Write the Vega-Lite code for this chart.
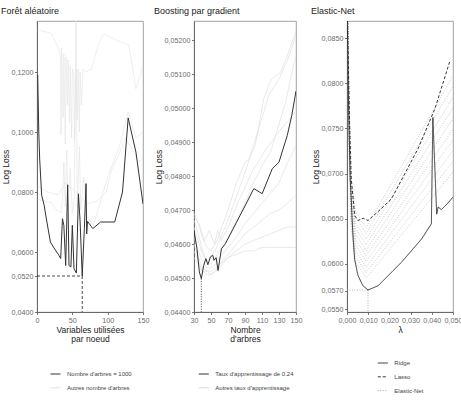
{
  "$schema": "https://vega.github.io/schema/vega-lite/v6.json",
  "padding": {"left": 0, "top": 6, "right": 0, "bottom": 0},
  "bounds": "flush",
  "spacing": 51,
  "resolve": {"scale": {"color": "independent", "strokeDash": "independent"}, "legend": {"color": "independent", "strokeDash": "independent"}},
  "config": {
    "font": "Liberation Sans",
    "view": {"stroke": "#8a8a8a", "strokeWidth": 0.8},
    "axis": {"grid": false, "labelFontSize": 7.2, "labelColor": "#6b6b6b", "titleFontSize": 8.5, "titleFontWeight": "normal", "titleColor": "#222222", "domainColor": "#555555", "tickColor": "#555555", "tickSize": 2.5, "labelPadding": 1.5, "domainWidth": 0.8, "tickWidth": 0.8, "titleLineHeight": 9.5, "labelOverlap": false, "labelBound": false, "labelFlush": false},
    "axisY": {"titlePadding": 1},
    "axisX": {"titlePadding": 2},
    "title": {"fontSize": 9, "fontWeight": "normal", "anchor": "start", "color": "#222222", "offset": 5},
    "legend": {"labelFontSize": 6, "labelColor": "#444444", "symbolType": "stroke", "symbolSize": 100, "symbolStrokeWidth": 1, "rowPadding": 4.8, "labelOffset": 6, "padding": 0, "orient": "none", "direction": "vertical", "title": null}
  },
  "datasets": {
    "rf": [
      {"id": "g1", "serie": "Autres nombre d'arbres", "x": 1, "y": 0.134},
      {"id": "g1", "serie": "Autres nombre d'arbres", "x": 10, "y": 0.1335},
      {"id": "g1", "serie": "Autres nombre d'arbres", "x": 20, "y": 0.133},
      {"id": "g1", "serie": "Autres nombre d'arbres", "x": 30, "y": 0.128},
      {"id": "g1", "serie": "Autres nombre d'arbres", "x": 33, "y": 0.126},
      {"id": "g1", "serie": "Autres nombre d'arbres", "x": 34, "y": 0.099},
      {"id": "g1", "serie": "Autres nombre d'arbres", "x": 35, "y": 0.128},
      {"id": "g1", "serie": "Autres nombre d'arbres", "x": 37, "y": 0.105},
      {"id": "g1", "serie": "Autres nombre d'arbres", "x": 38, "y": 0.126},
      {"id": "g1", "serie": "Autres nombre d'arbres", "x": 40, "y": 0.096},
      {"id": "g1", "serie": "Autres nombre d'arbres", "x": 41, "y": 0.125},
      {"id": "g1", "serie": "Autres nombre d'arbres", "x": 43, "y": 0.109},
      {"id": "g1", "serie": "Autres nombre d'arbres", "x": 44, "y": 0.124},
      {"id": "g1", "serie": "Autres nombre d'arbres", "x": 46, "y": 0.103},
      {"id": "g1", "serie": "Autres nombre d'arbres", "x": 47, "y": 0.122},
      {"id": "g1", "serie": "Autres nombre d'arbres", "x": 49, "y": 0.098},
      {"id": "g1", "serie": "Autres nombre d'arbres", "x": 50, "y": 0.121},
      {"id": "g1", "serie": "Autres nombre d'arbres", "x": 52, "y": 0.119},
      {"id": "g1", "serie": "Autres nombre d'arbres", "x": 53, "y": 0.097},
      {"id": "g1", "serie": "Autres nombre d'arbres", "x": 55, "y": 0.121},
      {"id": "g1", "serie": "Autres nombre d'arbres", "x": 57, "y": 0.104},
      {"id": "g1", "serie": "Autres nombre d'arbres", "x": 58, "y": 0.121},
      {"id": "g1", "serie": "Autres nombre d'arbres", "x": 60, "y": 0.1},
      {"id": "g1", "serie": "Autres nombre d'arbres", "x": 61, "y": 0.12},
      {"id": "g1", "serie": "Autres nombre d'arbres", "x": 63, "y": 0.109},
      {"id": "g1", "serie": "Autres nombre d'arbres", "x": 65, "y": 0.121},
      {"id": "g1", "serie": "Autres nombre d'arbres", "x": 69, "y": 0.12},
      {"id": "g1", "serie": "Autres nombre d'arbres", "x": 77, "y": 0.121},
      {"id": "g1", "serie": "Autres nombre d'arbres", "x": 88, "y": 0.13},
      {"id": "g1", "serie": "Autres nombre d'arbres", "x": 95, "y": 0.1327},
      {"id": "g1", "serie": "Autres nombre d'arbres", "x": 118, "y": 0.13},
      {"id": "g1", "serie": "Autres nombre d'arbres", "x": 130, "y": 0.129},
      {"id": "g1", "serie": "Autres nombre d'arbres", "x": 140, "y": 0.1144},
      {"id": "g1", "serie": "Autres nombre d'arbres", "x": 150, "y": 0.122},
      {"id": "g2", "serie": "Autres nombre d'arbres", "x": 1, "y": 0.0775},
      {"id": "g2", "serie": "Autres nombre d'arbres", "x": 10, "y": 0.077},
      {"id": "g2", "serie": "Autres nombre d'arbres", "x": 20, "y": 0.0765},
      {"id": "g2", "serie": "Autres nombre d'arbres", "x": 28, "y": 0.074},
      {"id": "g2", "serie": "Autres nombre d'arbres", "x": 34, "y": 0.073},
      {"id": "g2", "serie": "Autres nombre d'arbres", "x": 36, "y": 0.078},
      {"id": "g2", "serie": "Autres nombre d'arbres", "x": 38, "y": 0.09},
      {"id": "g2", "serie": "Autres nombre d'arbres", "x": 40, "y": 0.075},
      {"id": "g2", "serie": "Autres nombre d'arbres", "x": 42, "y": 0.094},
      {"id": "g2", "serie": "Autres nombre d'arbres", "x": 44, "y": 0.074},
      {"id": "g2", "serie": "Autres nombre d'arbres", "x": 47, "y": 0.088},
      {"id": "g2", "serie": "Autres nombre d'arbres", "x": 50, "y": 0.073},
      {"id": "g2", "serie": "Autres nombre d'arbres", "x": 53, "y": 0.078},
      {"id": "g2", "serie": "Autres nombre d'arbres", "x": 55, "y": 0.14},
      {"id": "g2", "serie": "Autres nombre d'arbres", "x": 57, "y": 0.075},
      {"id": "g2", "serie": "Autres nombre d'arbres", "x": 60, "y": 0.095},
      {"id": "g2", "serie": "Autres nombre d'arbres", "x": 62, "y": 0.074},
      {"id": "g2", "serie": "Autres nombre d'arbres", "x": 66, "y": 0.085},
      {"id": "g2", "serie": "Autres nombre d'arbres", "x": 70, "y": 0.072},
      {"id": "g2", "serie": "Autres nombre d'arbres", "x": 80, "y": 0.069},
      {"id": "g2", "serie": "Autres nombre d'arbres", "x": 100, "y": 0.085},
      {"id": "g2", "serie": "Autres nombre d'arbres", "x": 117, "y": 0.0955},
      {"id": "g2", "serie": "Autres nombre d'arbres", "x": 129, "y": 0.1067},
      {"id": "g2", "serie": "Autres nombre d'arbres", "x": 140, "y": 0.098},
      {"id": "g2", "serie": "Autres nombre d'arbres", "x": 150, "y": 0.1},
      {"id": "g3", "serie": "Autres nombre d'arbres", "x": 1, "y": 0.082},
      {"id": "g3", "serie": "Autres nombre d'arbres", "x": 15, "y": 0.08},
      {"id": "g3", "serie": "Autres nombre d'arbres", "x": 30, "y": 0.079},
      {"id": "g3", "serie": "Autres nombre d'arbres", "x": 40, "y": 0.083},
      {"id": "g3", "serie": "Autres nombre d'arbres", "x": 50, "y": 0.081},
      {"id": "g3", "serie": "Autres nombre d'arbres", "x": 60, "y": 0.079},
      {"id": "g3", "serie": "Autres nombre d'arbres", "x": 70, "y": 0.076},
      {"id": "g3", "serie": "Autres nombre d'arbres", "x": 85, "y": 0.077},
      {"id": "g3", "serie": "Autres nombre d'arbres", "x": 98, "y": 0.08},
      {"id": "g3", "serie": "Autres nombre d'arbres", "x": 105, "y": 0.087},
      {"id": "g3", "serie": "Autres nombre d'arbres", "x": 115, "y": 0.092},
      {"id": "g3", "serie": "Autres nombre d'arbres", "x": 125, "y": 0.098},
      {"id": "g3", "serie": "Autres nombre d'arbres", "x": 135, "y": 0.094},
      {"id": "g3", "serie": "Autres nombre d'arbres", "x": 145, "y": 0.09},
      {"id": "g3", "serie": "Autres nombre d'arbres", "x": 150, "y": 0.092},
      {"id": "b", "serie": "Nombre d'arbres = 1000", "x": 1, "y": 0.119},
      {"id": "b", "serie": "Nombre d'arbres = 1000", "x": 2.5, "y": 0.1},
      {"id": "b", "serie": "Nombre d'arbres = 1000", "x": 3.8, "y": 0.091},
      {"id": "b", "serie": "Nombre d'arbres = 1000", "x": 6.6, "y": 0.0789},
      {"id": "b", "serie": "Nombre d'arbres = 1000", "x": 10, "y": 0.0757},
      {"id": "b", "serie": "Nombre d'arbres = 1000", "x": 14, "y": 0.07},
      {"id": "b", "serie": "Nombre d'arbres = 1000", "x": 19, "y": 0.0633},
      {"id": "b", "serie": "Nombre d'arbres = 1000", "x": 25, "y": 0.061},
      {"id": "b", "serie": "Nombre d'arbres = 1000", "x": 31, "y": 0.0589},
      {"id": "b", "serie": "Nombre d'arbres = 1000", "x": 33.5, "y": 0.0578},
      {"id": "b", "serie": "Nombre d'arbres = 1000", "x": 36, "y": 0.0711},
      {"id": "b", "serie": "Nombre d'arbres = 1000", "x": 38, "y": 0.0689},
      {"id": "b", "serie": "Nombre d'arbres = 1000", "x": 40.6, "y": 0.0555},
      {"id": "b", "serie": "Nombre d'arbres = 1000", "x": 43.4, "y": 0.0824},
      {"id": "b", "serie": "Nombre d'arbres = 1000", "x": 45.3, "y": 0.0555},
      {"id": "b", "serie": "Nombre d'arbres = 1000", "x": 48, "y": 0.055},
      {"id": "b", "serie": "Nombre d'arbres = 1000", "x": 50, "y": 0.0689},
      {"id": "b", "serie": "Nombre d'arbres = 1000", "x": 52.4, "y": 0.0544},
      {"id": "b", "serie": "Nombre d'arbres = 1000", "x": 55.7, "y": 0.053},
      {"id": "b", "serie": "Nombre d'arbres = 1000", "x": 58.6, "y": 0.0794},
      {"id": "b", "serie": "Nombre d'arbres = 1000", "x": 61, "y": 0.0702},
      {"id": "b", "serie": "Nombre d'arbres = 1000", "x": 64, "y": 0.052},
      {"id": "b", "serie": "Nombre d'arbres = 1000", "x": 67, "y": 0.0678},
      {"id": "b", "serie": "Nombre d'arbres = 1000", "x": 69.4, "y": 0.0828},
      {"id": "b", "serie": "Nombre d'arbres = 1000", "x": 70.3, "y": 0.066},
      {"id": "b", "serie": "Nombre d'arbres = 1000", "x": 71.5, "y": 0.0702},
      {"id": "b", "serie": "Nombre d'arbres = 1000", "x": 79, "y": 0.0678},
      {"id": "b", "serie": "Nombre d'arbres = 1000", "x": 90, "y": 0.07},
      {"id": "b", "serie": "Nombre d'arbres = 1000", "x": 110, "y": 0.07},
      {"id": "b", "serie": "Nombre d'arbres = 1000", "x": 121, "y": 0.08},
      {"id": "b", "serie": "Nombre d'arbres = 1000", "x": 129, "y": 0.1047},
      {"id": "b", "serie": "Nombre d'arbres = 1000", "x": 140, "y": 0.0933},
      {"id": "b", "serie": "Nombre d'arbres = 1000", "x": 150, "y": 0.076}
    ],
    "rfref": [
      {"id": "h", "x": 0, "y": 0.052},
      {"id": "h", "x": 64, "y": 0.052},
      {"id": "v", "x": 64, "y": 0.052},
      {"id": "v", "x": 64, "y": 0.04}
    ],
    "gb": [
      {"id": "L1", "serie": "Autres taux d'apprentissage", "x": 30, "y": 0.0469},
      {"id": "L1", "serie": "Autres taux d'apprentissage", "x": 35, "y": 0.0466},
      {"id": "L1", "serie": "Autres taux d'apprentissage", "x": 40, "y": 0.0462},
      {"id": "L1", "serie": "Autres taux d'apprentissage", "x": 45, "y": 0.0459},
      {"id": "L1", "serie": "Autres taux d'apprentissage", "x": 50, "y": 0.0458},
      {"id": "L1", "serie": "Autres taux d'apprentissage", "x": 55, "y": 0.046},
      {"id": "L1", "serie": "Autres taux d'apprentissage", "x": 60, "y": 0.0463},
      {"id": "L1", "serie": "Autres taux d'apprentissage", "x": 70, "y": 0.047},
      {"id": "L1", "serie": "Autres taux d'apprentissage", "x": 80, "y": 0.0478},
      {"id": "L1", "serie": "Autres taux d'apprentissage", "x": 90, "y": 0.0484},
      {"id": "L1", "serie": "Autres taux d'apprentissage", "x": 95, "y": 0.04851},
      {"id": "L1", "serie": "Autres taux d'apprentissage", "x": 102, "y": 0.0489},
      {"id": "L1", "serie": "Autres taux d'apprentissage", "x": 108, "y": 0.04969},
      {"id": "L1", "serie": "Autres taux d'apprentissage", "x": 112, "y": 0.05027},
      {"id": "L1", "serie": "Autres taux d'apprentissage", "x": 120, "y": 0.05081},
      {"id": "L1", "serie": "Autres taux d'apprentissage", "x": 132, "y": 0.05106},
      {"id": "L1", "serie": "Autres taux d'apprentissage", "x": 140, "y": 0.05155},
      {"id": "L1", "serie": "Autres taux d'apprentissage", "x": 150, "y": 0.05228},
      {"id": "L2", "serie": "Autres taux d'apprentissage", "x": 30, "y": 0.0467},
      {"id": "L2", "serie": "Autres taux d'apprentissage", "x": 35, "y": 0.0463},
      {"id": "L2", "serie": "Autres taux d'apprentissage", "x": 40, "y": 0.0458},
      {"id": "L2", "serie": "Autres taux d'apprentissage", "x": 45, "y": 0.0455},
      {"id": "L2", "serie": "Autres taux d'apprentissage", "x": 50, "y": 0.0456},
      {"id": "L2", "serie": "Autres taux d'apprentissage", "x": 55, "y": 0.0458},
      {"id": "L2", "serie": "Autres taux d'apprentissage", "x": 60, "y": 0.0461},
      {"id": "L2", "serie": "Autres taux d'apprentissage", "x": 70, "y": 0.0467},
      {"id": "L2", "serie": "Autres taux d'apprentissage", "x": 80, "y": 0.0474},
      {"id": "L2", "serie": "Autres taux d'apprentissage", "x": 90, "y": 0.0481},
      {"id": "L2", "serie": "Autres taux d'apprentissage", "x": 100, "y": 0.0489},
      {"id": "L2", "serie": "Autres taux d'apprentissage", "x": 110, "y": 0.0497},
      {"id": "L2", "serie": "Autres taux d'apprentissage", "x": 118, "y": 0.05037},
      {"id": "L2", "serie": "Autres taux d'apprentissage", "x": 130, "y": 0.05086},
      {"id": "L2", "serie": "Autres taux d'apprentissage", "x": 140, "y": 0.0514},
      {"id": "L2", "serie": "Autres taux d'apprentissage", "x": 150, "y": 0.05214},
      {"id": "L3", "serie": "Autres taux d'apprentissage", "x": 30, "y": 0.0465},
      {"id": "L3", "serie": "Autres taux d'apprentissage", "x": 35, "y": 0.0461},
      {"id": "L3", "serie": "Autres taux d'apprentissage", "x": 40, "y": 0.0457},
      {"id": "L3", "serie": "Autres taux d'apprentissage", "x": 45, "y": 0.0455},
      {"id": "L3", "serie": "Autres taux d'apprentissage", "x": 50, "y": 0.0454},
      {"id": "L3", "serie": "Autres taux d'apprentissage", "x": 55, "y": 0.0456},
      {"id": "L3", "serie": "Autres taux d'apprentissage", "x": 60, "y": 0.0458},
      {"id": "L3", "serie": "Autres taux d'apprentissage", "x": 70, "y": 0.0462},
      {"id": "L3", "serie": "Autres taux d'apprentissage", "x": 80, "y": 0.0467},
      {"id": "L3", "serie": "Autres taux d'apprentissage", "x": 90, "y": 0.0472},
      {"id": "L3", "serie": "Autres taux d'apprentissage", "x": 100, "y": 0.0478},
      {"id": "L3", "serie": "Autres taux d'apprentissage", "x": 110, "y": 0.0483},
      {"id": "L3", "serie": "Autres taux d'apprentissage", "x": 120, "y": 0.0487},
      {"id": "L3", "serie": "Autres taux d'apprentissage", "x": 126, "y": 0.04919},
      {"id": "L3", "serie": "Autres taux d'apprentissage", "x": 138, "y": 0.0502},
      {"id": "L3", "serie": "Autres taux d'apprentissage", "x": 148, "y": 0.05135},
      {"id": "L3", "serie": "Autres taux d'apprentissage", "x": 150, "y": 0.0515},
      {"id": "L4", "serie": "Autres taux d'apprentissage", "x": 30, "y": 0.0462},
      {"id": "L4", "serie": "Autres taux d'apprentissage", "x": 35, "y": 0.0458},
      {"id": "L4", "serie": "Autres taux d'apprentissage", "x": 40, "y": 0.0455},
      {"id": "L4", "serie": "Autres taux d'apprentissage", "x": 45, "y": 0.0453},
      {"id": "L4", "serie": "Autres taux d'apprentissage", "x": 50, "y": 0.0453},
      {"id": "L4", "serie": "Autres taux d'apprentissage", "x": 55, "y": 0.0454},
      {"id": "L4", "serie": "Autres taux d'apprentissage", "x": 60, "y": 0.0456},
      {"id": "L4", "serie": "Autres taux d'apprentissage", "x": 70, "y": 0.0459},
      {"id": "L4", "serie": "Autres taux d'apprentissage", "x": 80, "y": 0.0462},
      {"id": "L4", "serie": "Autres taux d'apprentissage", "x": 90, "y": 0.0466},
      {"id": "L4", "serie": "Autres taux d'apprentissage", "x": 100, "y": 0.0469},
      {"id": "L4", "serie": "Autres taux d'apprentissage", "x": 110, "y": 0.0472},
      {"id": "L4", "serie": "Autres taux d'apprentissage", "x": 120, "y": 0.0475},
      {"id": "L4", "serie": "Autres taux d'apprentissage", "x": 130, "y": 0.0478},
      {"id": "L4", "serie": "Autres taux d'apprentissage", "x": 140, "y": 0.0484},
      {"id": "L4", "serie": "Autres taux d'apprentissage", "x": 150, "y": 0.0489},
      {"id": "L5", "serie": "Autres taux d'apprentissage", "x": 30, "y": 0.046},
      {"id": "L5", "serie": "Autres taux d'apprentissage", "x": 35, "y": 0.0456},
      {"id": "L5", "serie": "Autres taux d'apprentissage", "x": 40, "y": 0.0453},
      {"id": "L5", "serie": "Autres taux d'apprentissage", "x": 45, "y": 0.0452},
      {"id": "L5", "serie": "Autres taux d'apprentissage", "x": 50, "y": 0.0451},
      {"id": "L5", "serie": "Autres taux d'apprentissage", "x": 55, "y": 0.0452},
      {"id": "L5", "serie": "Autres taux d'apprentissage", "x": 60, "y": 0.0454},
      {"id": "L5", "serie": "Autres taux d'apprentissage", "x": 70, "y": 0.0457},
      {"id": "L5", "serie": "Autres taux d'apprentissage", "x": 80, "y": 0.046},
      {"id": "L5", "serie": "Autres taux d'apprentissage", "x": 90, "y": 0.0463},
      {"id": "L5", "serie": "Autres taux d'apprentissage", "x": 100, "y": 0.0465},
      {"id": "L5", "serie": "Autres taux d'apprentissage", "x": 110, "y": 0.0467},
      {"id": "L5", "serie": "Autres taux d'apprentissage", "x": 120, "y": 0.0469},
      {"id": "L5", "serie": "Autres taux d'apprentissage", "x": 130, "y": 0.047},
      {"id": "L5", "serie": "Autres taux d'apprentissage", "x": 140, "y": 0.0472},
      {"id": "L5", "serie": "Autres taux d'apprentissage", "x": 150, "y": 0.04743},
      {"id": "L6", "serie": "Autres taux d'apprentissage", "x": 30, "y": 0.0458},
      {"id": "L6", "serie": "Autres taux d'apprentissage", "x": 35, "y": 0.0455},
      {"id": "L6", "serie": "Autres taux d'apprentissage", "x": 40, "y": 0.0452},
      {"id": "L6", "serie": "Autres taux d'apprentissage", "x": 45, "y": 0.0451},
      {"id": "L6", "serie": "Autres taux d'apprentissage", "x": 50, "y": 0.0451},
      {"id": "L6", "serie": "Autres taux d'apprentissage", "x": 55, "y": 0.0452},
      {"id": "L6", "serie": "Autres taux d'apprentissage", "x": 60, "y": 0.0453},
      {"id": "L6", "serie": "Autres taux d'apprentissage", "x": 70, "y": 0.0456},
      {"id": "L6", "serie": "Autres taux d'apprentissage", "x": 80, "y": 0.0458},
      {"id": "L6", "serie": "Autres taux d'apprentissage", "x": 90, "y": 0.046},
      {"id": "L6", "serie": "Autres taux d'apprentissage", "x": 100, "y": 0.0461},
      {"id": "L6", "serie": "Autres taux d'apprentissage", "x": 110, "y": 0.0462},
      {"id": "L6", "serie": "Autres taux d'apprentissage", "x": 120, "y": 0.0463},
      {"id": "L6", "serie": "Autres taux d'apprentissage", "x": 130, "y": 0.0464},
      {"id": "L6", "serie": "Autres taux d'apprentissage", "x": 140, "y": 0.0465},
      {"id": "L6", "serie": "Autres taux d'apprentissage", "x": 150, "y": 0.0465},
      {"id": "L7", "serie": "Autres taux d'apprentissage", "x": 30, "y": 0.0456},
      {"id": "L7", "serie": "Autres taux d'apprentissage", "x": 40, "y": 0.0452},
      {"id": "L7", "serie": "Autres taux d'apprentissage", "x": 50, "y": 0.0452},
      {"id": "L7", "serie": "Autres taux d'apprentissage", "x": 60, "y": 0.0454},
      {"id": "L7", "serie": "Autres taux d'apprentissage", "x": 70, "y": 0.0456},
      {"id": "L7", "serie": "Autres taux d'apprentissage", "x": 80, "y": 0.0457},
      {"id": "L7", "serie": "Autres taux d'apprentissage", "x": 90, "y": 0.0458},
      {"id": "L7", "serie": "Autres taux d'apprentissage", "x": 100, "y": 0.0458},
      {"id": "L7", "serie": "Autres taux d'apprentissage", "x": 110, "y": 0.0459},
      {"id": "L7", "serie": "Autres taux d'apprentissage", "x": 120, "y": 0.0459},
      {"id": "L7", "serie": "Autres taux d'apprentissage", "x": 130, "y": 0.0459},
      {"id": "L7", "serie": "Autres taux d'apprentissage", "x": 150, "y": 0.0459},
      {"id": "L8", "serie": "Autres taux d'apprentissage", "x": 30, "y": 0.0468},
      {"id": "L8", "serie": "Autres taux d'apprentissage", "x": 36, "y": 0.0466},
      {"id": "L8", "serie": "Autres taux d'apprentissage", "x": 42, "y": 0.0461},
      {"id": "L8", "serie": "Autres taux d'apprentissage", "x": 48, "y": 0.0464},
      {"id": "L8", "serie": "Autres taux d'apprentissage", "x": 54, "y": 0.046},
      {"id": "L8", "serie": "Autres taux d'apprentissage", "x": 58, "y": 0.0464},
      {"id": "L8", "serie": "Autres taux d'apprentissage", "x": 62, "y": 0.0461},
      {"id": "L8", "serie": "Autres taux d'apprentissage", "x": 70, "y": 0.0465},
      {"id": "L8", "serie": "Autres taux d'apprentissage", "x": 85, "y": 0.0474},
      {"id": "L8", "serie": "Autres taux d'apprentissage", "x": 100, "y": 0.0482},
      {"id": "L8", "serie": "Autres taux d'apprentissage", "x": 115, "y": 0.0488},
      {"id": "L8", "serie": "Autres taux d'apprentissage", "x": 130, "y": 0.0493},
      {"id": "L8", "serie": "Autres taux d'apprentissage", "x": 150, "y": 0.0499},
      {"id": "B", "serie": "Taux d'apprentissage de 0.24", "x": 30, "y": 0.0464},
      {"id": "B", "serie": "Taux d'apprentissage de 0.24", "x": 33.5, "y": 0.04586},
      {"id": "B", "serie": "Taux d'apprentissage de 0.24", "x": 36.3, "y": 0.04518},
      {"id": "B", "serie": "Taux d'apprentissage de 0.24", "x": 38.6, "y": 0.04498},
      {"id": "B", "serie": "Taux d'apprentissage de 0.24", "x": 41.4, "y": 0.04537},
      {"id": "B", "serie": "Taux d'apprentissage de 0.24", "x": 44, "y": 0.04557},
      {"id": "B", "serie": "Taux d'apprentissage de 0.24", "x": 46.3, "y": 0.04539},
      {"id": "B", "serie": "Taux d'apprentissage de 0.24", "x": 49.3, "y": 0.04562},
      {"id": "B", "serie": "Taux d'apprentissage de 0.24", "x": 52, "y": 0.04567},
      {"id": "B", "serie": "Taux d'apprentissage de 0.24", "x": 53.6, "y": 0.04552},
      {"id": "B", "serie": "Taux d'apprentissage de 0.24", "x": 56, "y": 0.0456},
      {"id": "B", "serie": "Taux d'apprentissage de 0.24", "x": 58.3, "y": 0.04522},
      {"id": "B", "serie": "Taux d'apprentissage de 0.24", "x": 60, "y": 0.0455},
      {"id": "B", "serie": "Taux d'apprentissage de 0.24", "x": 62.3, "y": 0.04586},
      {"id": "B", "serie": "Taux d'apprentissage de 0.24", "x": 67, "y": 0.04601},
      {"id": "B", "serie": "Taux d'apprentissage de 0.24", "x": 80, "y": 0.04664},
      {"id": "B", "serie": "Taux d'apprentissage de 0.24", "x": 90, "y": 0.04712},
      {"id": "B", "serie": "Taux d'apprentissage de 0.24", "x": 100.4, "y": 0.04763},
      {"id": "B", "serie": "Taux d'apprentissage de 0.24", "x": 110.2, "y": 0.04748},
      {"id": "B", "serie": "Taux d'apprentissage de 0.24", "x": 122, "y": 0.04821},
      {"id": "B", "serie": "Taux d'apprentissage de 0.24", "x": 130, "y": 0.04841},
      {"id": "B", "serie": "Taux d'apprentissage de 0.24", "x": 139.7, "y": 0.04919},
      {"id": "B", "serie": "Taux d'apprentissage de 0.24", "x": 145, "y": 0.04978},
      {"id": "B", "serie": "Taux d'apprentissage de 0.24", "x": 150, "y": 0.0505}
    ],
    "gbref": [
      {"x": 38.6, "y": 0.04498},
      {"x": 38.6, "y": 0.044}
    ],
    "en": [
      {"id": "ridge", "m": "Ridge", "l": 0.0001, "y": 0.088},
      {"id": "ridge", "m": "Ridge", "l": 0.0007, "y": 0.078},
      {"id": "ridge", "m": "Ridge", "l": 0.0015, "y": 0.0694},
      {"id": "ridge", "m": "Ridge", "l": 0.002, "y": 0.0672},
      {"id": "ridge", "m": "Ridge", "l": 0.0024, "y": 0.065},
      {"id": "ridge", "m": "Ridge", "l": 0.0029, "y": 0.0628},
      {"id": "ridge", "m": "Ridge", "l": 0.0036, "y": 0.0605},
      {"id": "ridge", "m": "Ridge", "l": 0.0052, "y": 0.0587},
      {"id": "ridge", "m": "Ridge", "l": 0.0075, "y": 0.05758},
      {"id": "ridge", "m": "Ridge", "l": 0.0099, "y": 0.05711},
      {"id": "ridge", "m": "Ridge", "l": 0.0147, "y": 0.05758},
      {"id": "ridge", "m": "Ridge", "l": 0.0257, "y": 0.06018},
      {"id": "ridge", "m": "Ridge", "l": 0.0352, "y": 0.06276},
      {"id": "ridge", "m": "Ridge", "l": 0.0398, "y": 0.06443},
      {"id": "ridge", "m": "Ridge", "l": 0.0405, "y": 0.0762},
      {"id": "ridge", "m": "Ridge", "l": 0.0423, "y": 0.0655},
      {"id": "ridge", "m": "Ridge", "l": 0.043, "y": 0.0663},
      {"id": "ridge", "m": "Ridge", "l": 0.0445, "y": 0.066},
      {"id": "ridge", "m": "Ridge", "l": 0.0475, "y": 0.0667},
      {"id": "ridge", "m": "Ridge", "l": 0.05, "y": 0.0674},
      {"id": "lasso", "m": "Lasso", "l": 0.0002, "y": 0.088},
      {"id": "lasso", "m": "Lasso", "l": 0.0008, "y": 0.08},
      {"id": "lasso", "m": "Lasso", "l": 0.0014, "y": 0.074},
      {"id": "lasso", "m": "Lasso", "l": 0.002, "y": 0.0694},
      {"id": "lasso", "m": "Lasso", "l": 0.0029, "y": 0.0672},
      {"id": "lasso", "m": "Lasso", "l": 0.0036, "y": 0.06535},
      {"id": "lasso", "m": "Lasso", "l": 0.0052, "y": 0.0648},
      {"id": "lasso", "m": "Lasso", "l": 0.0076, "y": 0.06506},
      {"id": "lasso", "m": "Lasso", "l": 0.0099, "y": 0.0648},
      {"id": "lasso", "m": "Lasso", "l": 0.0147, "y": 0.0658},
      {"id": "lasso", "m": "Lasso", "l": 0.021, "y": 0.0672},
      {"id": "lasso", "m": "Lasso", "l": 0.0336, "y": 0.0728},
      {"id": "lasso", "m": "Lasso", "l": 0.0415, "y": 0.0772},
      {"id": "lasso", "m": "Lasso", "l": 0.0486, "y": 0.0825},
      {"id": "e1", "m": "Elastic-Net", "l": 0.0003, "y": 0.088}, {"id": "e1", "m": "Elastic-Net", "l": 0.001, "y": 0.07242}, {"id": "e1", "m": "Elastic-Net", "l": 0.002, "y": 0.06392}, {"id": "e1", "m": "Elastic-Net", "l": 0.004, "y": 0.06022}, {"id": "e1", "m": "Elastic-Net", "l": 0.009, "y": 0.05842}, {"id": "e1", "m": "Elastic-Net", "l": 0.02, "y": 0.06157}, {"id": "e1", "m": "Elastic-Net", "l": 0.03, "y": 0.06444}, {"id": "e1", "m": "Elastic-Net", "l": 0.04, "y": 0.06731}, {"id": "e1", "m": "Elastic-Net", "l": 0.05, "y": 0.07018},
      {"id": "e2", "m": "Elastic-Net", "l": 0.0003, "y": 0.088}, {"id": "e2", "m": "Elastic-Net", "l": 0.001, "y": 0.07304}, {"id": "e2", "m": "Elastic-Net", "l": 0.002, "y": 0.06454}, {"id": "e2", "m": "Elastic-Net", "l": 0.004, "y": 0.06084}, {"id": "e2", "m": "Elastic-Net", "l": 0.009, "y": 0.05904}, {"id": "e2", "m": "Elastic-Net", "l": 0.02, "y": 0.06234}, {"id": "e2", "m": "Elastic-Net", "l": 0.03, "y": 0.06535}, {"id": "e2", "m": "Elastic-Net", "l": 0.04, "y": 0.06835}, {"id": "e2", "m": "Elastic-Net", "l": 0.05, "y": 0.07136},
      {"id": "e3", "m": "Elastic-Net", "l": 0.0003, "y": 0.088}, {"id": "e3", "m": "Elastic-Net", "l": 0.001, "y": 0.07365}, {"id": "e3", "m": "Elastic-Net", "l": 0.002, "y": 0.06515}, {"id": "e3", "m": "Elastic-Net", "l": 0.004, "y": 0.06145}, {"id": "e3", "m": "Elastic-Net", "l": 0.009, "y": 0.05965}, {"id": "e3", "m": "Elastic-Net", "l": 0.02, "y": 0.06311}, {"id": "e3", "m": "Elastic-Net", "l": 0.03, "y": 0.06625}, {"id": "e3", "m": "Elastic-Net", "l": 0.04, "y": 0.0694}, {"id": "e3", "m": "Elastic-Net", "l": 0.05, "y": 0.07255},
      {"id": "e4", "m": "Elastic-Net", "l": 0.0003, "y": 0.088}, {"id": "e4", "m": "Elastic-Net", "l": 0.001, "y": 0.07427}, {"id": "e4", "m": "Elastic-Net", "l": 0.002, "y": 0.06577}, {"id": "e4", "m": "Elastic-Net", "l": 0.004, "y": 0.06207}, {"id": "e4", "m": "Elastic-Net", "l": 0.009, "y": 0.06027}, {"id": "e4", "m": "Elastic-Net", "l": 0.02, "y": 0.06388}, {"id": "e4", "m": "Elastic-Net", "l": 0.03, "y": 0.06716}, {"id": "e4", "m": "Elastic-Net", "l": 0.04, "y": 0.07045}, {"id": "e4", "m": "Elastic-Net", "l": 0.05, "y": 0.07373},
      {"id": "e5", "m": "Elastic-Net", "l": 0.0003, "y": 0.088}, {"id": "e5", "m": "Elastic-Net", "l": 0.001, "y": 0.07489}, {"id": "e5", "m": "Elastic-Net", "l": 0.002, "y": 0.06639}, {"id": "e5", "m": "Elastic-Net", "l": 0.004, "y": 0.06269}, {"id": "e5", "m": "Elastic-Net", "l": 0.009, "y": 0.06089}, {"id": "e5", "m": "Elastic-Net", "l": 0.02, "y": 0.06465}, {"id": "e5", "m": "Elastic-Net", "l": 0.03, "y": 0.06807}, {"id": "e5", "m": "Elastic-Net", "l": 0.04, "y": 0.07149}, {"id": "e5", "m": "Elastic-Net", "l": 0.05, "y": 0.07491},
      {"id": "e6", "m": "Elastic-Net", "l": 0.0003, "y": 0.088}, {"id": "e6", "m": "Elastic-Net", "l": 0.001, "y": 0.07551}, {"id": "e6", "m": "Elastic-Net", "l": 0.002, "y": 0.06701}, {"id": "e6", "m": "Elastic-Net", "l": 0.004, "y": 0.06331}, {"id": "e6", "m": "Elastic-Net", "l": 0.009, "y": 0.06151}, {"id": "e6", "m": "Elastic-Net", "l": 0.02, "y": 0.06542}, {"id": "e6", "m": "Elastic-Net", "l": 0.03, "y": 0.06898}, {"id": "e6", "m": "Elastic-Net", "l": 0.04, "y": 0.07253}, {"id": "e6", "m": "Elastic-Net", "l": 0.05, "y": 0.07609},
      {"id": "e7", "m": "Elastic-Net", "l": 0.0003, "y": 0.088}, {"id": "e7", "m": "Elastic-Net", "l": 0.001, "y": 0.07613}, {"id": "e7", "m": "Elastic-Net", "l": 0.002, "y": 0.06763}, {"id": "e7", "m": "Elastic-Net", "l": 0.004, "y": 0.06393}, {"id": "e7", "m": "Elastic-Net", "l": 0.009, "y": 0.06213}, {"id": "e7", "m": "Elastic-Net", "l": 0.02, "y": 0.06619}, {"id": "e7", "m": "Elastic-Net", "l": 0.03, "y": 0.06988}, {"id": "e7", "m": "Elastic-Net", "l": 0.04, "y": 0.07358}, {"id": "e7", "m": "Elastic-Net", "l": 0.05, "y": 0.07727},
      {"id": "e8", "m": "Elastic-Net", "l": 0.0003, "y": 0.088}, {"id": "e8", "m": "Elastic-Net", "l": 0.001, "y": 0.07675}, {"id": "e8", "m": "Elastic-Net", "l": 0.002, "y": 0.06825}, {"id": "e8", "m": "Elastic-Net", "l": 0.004, "y": 0.06455}, {"id": "e8", "m": "Elastic-Net", "l": 0.009, "y": 0.06275}, {"id": "e8", "m": "Elastic-Net", "l": 0.02, "y": 0.06696}, {"id": "e8", "m": "Elastic-Net", "l": 0.03, "y": 0.07079}, {"id": "e8", "m": "Elastic-Net", "l": 0.04, "y": 0.07462}, {"id": "e8", "m": "Elastic-Net", "l": 0.05, "y": 0.07845},
      {"id": "e9", "m": "Elastic-Net", "l": 0.0003, "y": 0.088}, {"id": "e9", "m": "Elastic-Net", "l": 0.001, "y": 0.07736}, {"id": "e9", "m": "Elastic-Net", "l": 0.002, "y": 0.06886}, {"id": "e9", "m": "Elastic-Net", "l": 0.004, "y": 0.06516}, {"id": "e9", "m": "Elastic-Net", "l": 0.009, "y": 0.06336}, {"id": "e9", "m": "Elastic-Net", "l": 0.02, "y": 0.06772}, {"id": "e9", "m": "Elastic-Net", "l": 0.03, "y": 0.0717}, {"id": "e9", "m": "Elastic-Net", "l": 0.04, "y": 0.07567}, {"id": "e9", "m": "Elastic-Net", "l": 0.05, "y": 0.07964},
      {"id": "e10", "m": "Elastic-Net", "l": 0.0003, "y": 0.088}, {"id": "e10", "m": "Elastic-Net", "l": 0.001, "y": 0.07798}, {"id": "e10", "m": "Elastic-Net", "l": 0.002, "y": 0.06948}, {"id": "e10", "m": "Elastic-Net", "l": 0.004, "y": 0.06578}, {"id": "e10", "m": "Elastic-Net", "l": 0.009, "y": 0.06398}, {"id": "e10", "m": "Elastic-Net", "l": 0.02, "y": 0.06849}, {"id": "e10", "m": "Elastic-Net", "l": 0.03, "y": 0.0726}, {"id": "e10", "m": "Elastic-Net", "l": 0.04, "y": 0.07671}, {"id": "e10", "m": "Elastic-Net", "l": 0.05, "y": 0.08082}
    ],
    "enref": [
      {"id": "h", "l": 0, "y": 0.0571},
      {"id": "h", "l": 0.0099, "y": 0.0571},
      {"id": "v", "l": 0.0099, "y": 0.0571},
      {"id": "v", "l": 0.0099, "y": 0.05467}
    ]
  },
  "hconcat": [
    {
      "width": 106, "height": 291,
      "title": "Forêt aléatoire",
      "data": {"name": "rf"},
      "encoding": {
        "x": {"field": "x", "type": "quantitative", "scale": {"domain": [0, 150], "nice": false}, "axis": {"values": [0, 50, 100, 150], "title": ["Variables utilisées", "par noeud"]}},
        "y": {"field": "y", "type": "quantitative", "scale": {"domain": [0.04, 0.137], "nice": false, "zero": false}, "axis": {"values": [0.04, 0.052, 0.06, 0.08, 0.1, 0.12], "labelExpr": "replace(format(datum.value, '.4f'), '.', ',')", "title": "Log Loss"}}
      },
      "layer": [
        {
          "transform": [{"filter": "datum.id != 'b'"}],
          "mark": {"type": "line", "strokeWidth": 0.6, "clip": true},
          "encoding": {
            "color": {"field": "serie", "type": "nominal", "scale": {"domain": ["Nombre d'arbres = 1000", "Autres nombre d'arbres"], "range": ["#333333", "#e2e2e2"]}, "legend": {"legendX": 13, "legendY": 347.5}},
            "detail": {"field": "id"}
          }
        },
        {
          "data": {"name": "rfref"},
          "mark": {"type": "line", "strokeWidth": 0.9, "strokeDash": [3, 2], "color": "#333333"},
          "encoding": {"detail": {"field": "id"}}
        },
        {
          "transform": [{"filter": "datum.id == 'b'"}],
          "mark": {"type": "line", "strokeWidth": 1, "clip": true},
          "encoding": {
            "color": {"field": "serie", "type": "nominal"}
          }
        }
      ]
    },
    {
      "width": 102, "height": 291,
      "title": "Boosting par gradient",
      "data": {"name": "gb"},
      "encoding": {
        "x": {"field": "x", "type": "quantitative", "scale": {"domain": [30, 150], "nice": false, "zero": false}, "axis": {"values": [30, 50, 70, 90, 110, 130, 150], "title": ["Nombre", "d'arbres"]}},
        "y": {"field": "y", "type": "quantitative", "scale": {"domain": [0.044, 0.05256], "nice": false, "zero": false}, "axis": {"values": [0.044, 0.045, 0.046, 0.047, 0.048, 0.049, 0.05, 0.051, 0.052], "labelExpr": "replace(format(datum.value, '.5f'), '.', ',')", "title": "Log Loss"}}
      },
      "layer": [
        {
          "transform": [{"filter": "datum.id != 'B'"}],
          "mark": {"type": "line", "strokeWidth": 0.6, "clip": true},
          "encoding": {
            "color": {"field": "serie", "type": "nominal", "scale": {"domain": ["Taux d'apprentissage de 0.24", "Autres taux d'apprentissage"], "range": ["#333333", "#dadada"]}, "legend": {"legendX": 4.3, "legendY": 347.5}},
            "detail": {"field": "id"}
          }
        },
        {
          "data": {"name": "gbref"},
          "mark": {"type": "line", "strokeWidth": 0.9, "strokeDash": [1, 1.5], "color": "#333333"},
          "encoding": {}
        },
        {
          "transform": [{"filter": "datum.id == 'B'"}],
          "mark": {"type": "line", "strokeWidth": 1, "clip": true},
          "encoding": {"color": {"field": "serie", "type": "nominal"}}
        }
      ]
    },
    {
      "width": 106, "height": 291,
      "title": "Elastic-Net",
      "data": {"name": "en"},
      "encoding": {
        "x": {"field": "l", "type": "quantitative", "scale": {"domain": [0, 0.05], "nice": false}, "axis": {"values": [0, 0.01, 0.02, 0.03, 0.04, 0.05], "labelExpr": "replace(format(datum.value, '.3f'), '.', ',')", "title": "λ"}},
        "y": {"field": "y", "type": "quantitative", "scale": {"domain": [0.05467, 0.08689], "nice": false, "zero": false}, "axis": {"values": [0.055, 0.057, 0.06, 0.065, 0.07, 0.075, 0.08, 0.085], "labelExpr": "replace(format(datum.value, '.4f'), '.', ',')", "title": "Log Loss"}}
      },
      "layer": [
        {
          "data": {"name": "enref"},
          "mark": {"type": "line", "strokeWidth": 0.8, "strokeDash": [1, 1.5], "color": "#999999"},
          "encoding": {"detail": {"field": "id"}}
        },
        {
          "transform": [{"filter": "datum.m == 'Elastic-Net'"}],
          "mark": {"type": "line", "strokeWidth": 0.6, "clip": true},
          "encoding": {
            "color": {"field": "m", "type": "nominal", "scale": {"domain": ["Ridge", "Lasso", "Elastic-Net"], "range": ["#333333", "#333333", "#a8a8a8"]}, "legend": {"legendX": 30.3, "legendY": 336.5}},
            "strokeDash": {"field": "m", "type": "nominal", "scale": {"domain": ["Ridge", "Lasso", "Elastic-Net"], "range": [[1, 0], [3, 2], [1, 1.5]]}, "legend": {"legendX": 30.3, "legendY": 336.5}},
            "detail": {"field": "id"}
          }
        },
        {
          "transform": [{"filter": "datum.m != 'Elastic-Net'"}],
          "mark": {"type": "line", "strokeWidth": 1, "clip": true},
          "encoding": {
            "color": {"field": "m", "type": "nominal"},
            "strokeDash": {"field": "m", "type": "nominal"},
            "detail": {"field": "id"}
          }
        }
      ]
    }
  ]
}
